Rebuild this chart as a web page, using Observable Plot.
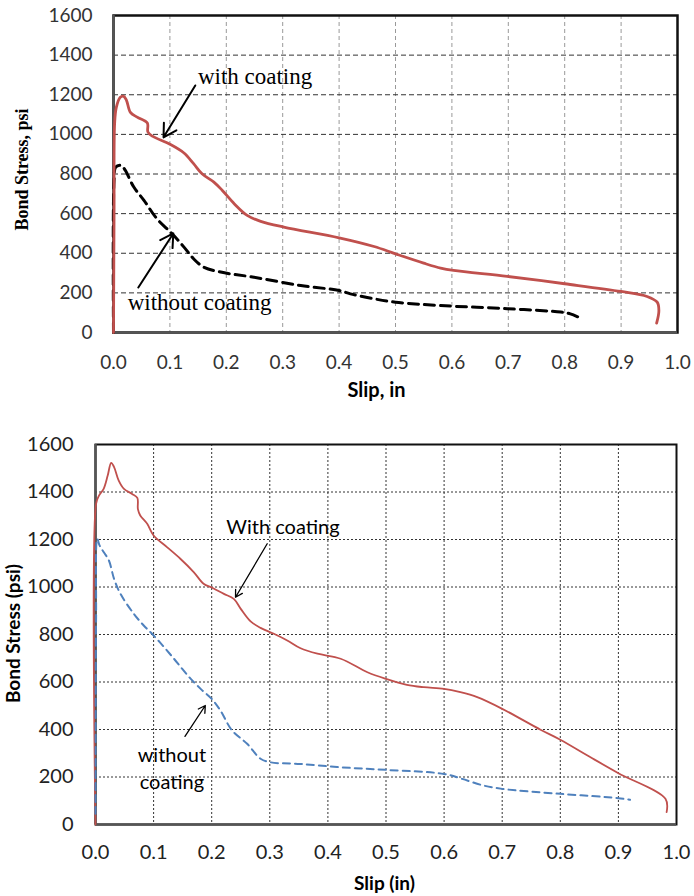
<!DOCTYPE html>
<html>
<head>
<meta charset="utf-8">
<script src="https://cdn.jsdelivr.net/npm/d3@7"></script>
<script src="https://cdn.jsdelivr.net/npm/@observablehq/plot@0.6"></script>
<style>
  html, body { margin: 0; padding: 0; background: #fff; }
  svg { display: block; }
</style>
</head>
<body>
<div id="top"></div>
<div id="bottom"></div>
<script>
// ---------- Data ----------
const xTicks = [0, 0.1, 0.2, 0.3, 0.4, 0.5, 0.6, 0.7, 0.8, 0.9, 1.0];
const yTicks = [0, 200, 400, 600, 800, 1000, 1200, 1400, 1600];

// Top chart
const topWithSlip   = [0, 0.001, 0.002, 0.005, 0.012, 0.018, 0.023, 0.030, 0.042, 0.060, 0.061, 0.069, 0.101, 0.125, 0.142, 0.157, 0.178, 0.193, 0.214, 0.237, 0.261, 0.302, 0.400, 0.462, 0.500, 0.550, 0.580, 0.603, 0.698, 0.800, 0.900, 0.946, 0.964, 0.967, 0.963];
const topWithStress = [0, 600, 1055, 1136, 1187, 1192, 1172, 1111, 1087, 1057, 1012, 991, 949, 906, 852, 801, 759, 717, 650, 591, 561, 532, 478, 434, 397, 350, 325, 313, 283, 246, 207, 182, 153, 111, 47];
const topWithoutSlip   = [0, 0.001, 0.004, 0.014, 0.021, 0.036, 0.054, 0.077, 0.104, 0.125, 0.142, 0.160, 0.190, 0.249, 0.332, 0.400, 0.420, 0.462, 0.500, 0.580, 0.698, 0.793, 0.810, 0.831];
const topWithoutStress = [0, 768, 835, 843, 818, 734, 667, 574, 498, 431, 372, 330, 305, 279, 237, 212, 195, 170, 153, 136, 120, 103, 94, 69];

// Bottom chart
const botWithSlip   = [0, 0.001, 0.006, 0.014, 0.021, 0.027, 0.032, 0.040, 0.049, 0.063, 0.072, 0.073, 0.077, 0.089, 0.100, 0.123, 0.146, 0.169, 0.186, 0.201, 0.221, 0.238, 0.250, 0.267, 0.284, 0.307, 0.330, 0.353, 0.382, 0.422, 0.468, 0.500, 0.536, 0.565, 0.600, 0.628, 0.657, 0.700, 0.766, 0.800, 0.852, 0.900, 0.981, 0.983];
const botWithStress = [0, 1350, 1385, 1413, 1469, 1523, 1505, 1448, 1413, 1392, 1375, 1328, 1301, 1266, 1217, 1168, 1119, 1063, 1014, 997, 971, 950, 908, 855, 828, 803, 775, 742, 719, 698, 641, 613, 588, 578, 571, 557, 536, 487, 399, 357, 283, 216, 108, 52];
const botWithoutSlip   = [0, 0.001, 0.003, 0.007, 0.014, 0.023, 0.032, 0.043, 0.066, 0.083, 0.100, 0.118, 0.135, 0.149, 0.164, 0.181, 0.200, 0.215, 0.235, 0.261, 0.284, 0.301, 0.353, 0.422, 0.500, 0.600, 0.631, 0.668, 0.700, 0.800, 0.900, 0.920];
const botWithoutStress = [45, 859, 1203, 1175, 1147, 1112, 1034, 971, 887, 838, 796, 747, 698, 656, 613, 571, 529, 480, 396, 340, 277, 262, 255, 241, 230, 213, 192, 164, 150, 129, 111, 104];

// Annotation labels and arrow endpoints (data coordinates)
const topLabels = ["with coating", "without coating"];
const topLabelX = [0.251, 0.1525];
const topLabelY = [1293, 151];
const topArrowX1 = [0.145, 0.044];
const topArrowY1 = [1247, 227];
const topArrowX2 = [0.0887, 0.106];
const topArrowY2 = [985, 500];

const botLabels = ["With coating", "without\ncoating"];
const botLabelX = [0.3227, 0.1315];
const botLabelY = [1259, 242];
const botArrowX1 = [0.2955, 0.154];
const botArrowY1 = [1182, 371];
const botArrowX2 = [0.241, 0.189];
const botArrowY2 = [957, 501];

const zip = (xs, ys) => xs.map((x, i) => ({x, y: ys[i]}));
const fmt1 = d3.format(".1f");

// ---------- Top chart ----------
const topPlot = Plot.plot({
  width: 694, height: 410,
  marginLeft: 113, marginRight: 17, marginTop: 15, marginBottom: 78,
  style: {fontFamily: "Lato, sans-serif", background: "#fff"},
  x: {domain: [0, 1]},
  y: {domain: [0, 1600]},
  marks: [
    Plot.gridX(xTicks, {stroke: "#999", strokeOpacity: 1, strokeDasharray: "4,3"}),
    Plot.gridY(yTicks, {stroke: "#333", strokeOpacity: 1, strokeDasharray: "5,3"}),
    Plot.frame({stroke: "#111", strokeWidth: 2.5}),
    Plot.ruleX([0], {stroke: "#555", strokeWidth: 2.5}),
    Plot.ruleY([0], {stroke: "#555", strokeWidth: 2.5}),
    Plot.axisX({ticks: xTicks, tickFormat: fmt1, tickSize: 0, tickPadding: 23, label: null, fontSize: 19, color: "#333"}),
    Plot.axisY({ticks: yTicks, tickFormat: d => String(d), tickSize: 0, tickPadding: 21, label: null, fontSize: 19, color: "#333"}),
    Plot.line(zip(topWithoutSlip, topWithoutStress), {x: "x", y: "y", stroke: "#000", strokeWidth: 3, strokeDasharray: "10,6", curve: "catmull-rom"}),
    Plot.line(zip(topWithSlip, topWithStress), {x: "x", y: "y", stroke: "#C0504D", strokeWidth: 2.8, curve: "catmull-rom"}),
    Plot.arrow(topLabels.map((d, i) => ({x1: topArrowX1[i], y1: topArrowY1[i], x2: topArrowX2[i], y2: topArrowY2[i]})),
      {x1: "x1", y1: "y1", x2: "x2", y2: "y2", stroke: "#000", strokeWidth: 2, headLength: 11}),
    Plot.text(topLabels.map((t, i) => ({t, x: topLabelX[i], y: topLabelY[i]})),
      {x: "x", y: "y", text: "t", fontFamily: "Liberation Serif, serif", fontSize: 23, fill: "#000"}),
    Plot.text(["Slip, in"], {frameAnchor: "bottom", textAnchor: "middle", lineAnchor: "middle", dx: -19, dy: 58, fontFamily: "Lato, sans-serif", fontWeight: "bold", fontSize: 20, fill: "#000"}),
    Plot.text(["Bond Stress, psi"], {frameAnchor: "left", textAnchor: "middle", lineAnchor: "middle", dx: -91, dy: -4.5, rotate: -90, fontFamily: "Liberation Serif, serif", fontWeight: "bold", fontSize: 18, fill: "#000"})
  ]
});
document.getElementById("top").appendChild(topPlot);

// ---------- Bottom chart ----------
const botPlot = Plot.plot({
  width: 694, height: 486,
  marginLeft: 95, marginRight: 18, marginTop: 34, marginBottom: 72,
  style: {fontFamily: "Lato, sans-serif", background: "#fff"},
  x: {domain: [0, 1]},
  y: {domain: [0, 1600]},
  marks: [
    Plot.gridX(xTicks, {stroke: "#333", strokeOpacity: 1, strokeDasharray: "2,2"}),
    Plot.gridY(yTicks, {stroke: "#333", strokeOpacity: 1, strokeDasharray: "2,2"}),
    Plot.frame({stroke: "#111", strokeWidth: 2}),
    Plot.ruleX([0], {stroke: "#555", strokeWidth: 2.5}),
    Plot.ruleY([0], {stroke: "#555", strokeWidth: 2.5}),
    Plot.axisX({ticks: xTicks, tickFormat: fmt1, tickSize: 0, tickPadding: 20, label: null, fontSize: 20, color: "#222"}),
    Plot.axisY({ticks: yTicks, tickFormat: d => String(d), tickSize: 0, tickPadding: 22, label: null, fontSize: 20, color: "#222"}),
    Plot.line(zip(botWithSlip, botWithStress), {x: "x", y: "y", stroke: "#C0504D", strokeWidth: 1.8, curve: "catmull-rom"}),
    Plot.line(zip(botWithoutSlip, botWithoutStress), {x: "x", y: "y", stroke: "#4F81BD", strokeWidth: 2, strokeDasharray: "7,5", curve: "catmull-rom"}),
    Plot.arrow(botLabels.map((d, i) => ({x1: botArrowX1[i], y1: botArrowY1[i], x2: botArrowX2[i], y2: botArrowY2[i]})),
      {x1: "x1", y1: "y1", x2: "x2", y2: "y2", stroke: "#000", strokeWidth: 1.3, headLength: 9}),
    Plot.text(botLabels.map((t, i) => ({t, x: botLabelX[i], y: botLabelY[i]})),
      {x: "x", y: "y", text: "t", fontFamily: "Lato, sans-serif", fontSize: 20, lineHeight: 1.35, fill: "#000"}),
    Plot.text(["Slip (in)"], {frameAnchor: "bottom", textAnchor: "middle", lineAnchor: "middle", dx: -1.5, dy: 59, fontFamily: "Lato, sans-serif", fontWeight: "bold", fontSize: 19, fill: "#000"}),
    Plot.text(["Bond Stress (psi)"], {frameAnchor: "left", textAnchor: "middle", lineAnchor: "middle", dx: -82, dy: -1, rotate: -90, fontFamily: "Lato, sans-serif", fontWeight: "bold", fontSize: 19, fill: "#000"})
  ]
});
document.getElementById("bottom").appendChild(botPlot);
</script>
</body>
</html>
